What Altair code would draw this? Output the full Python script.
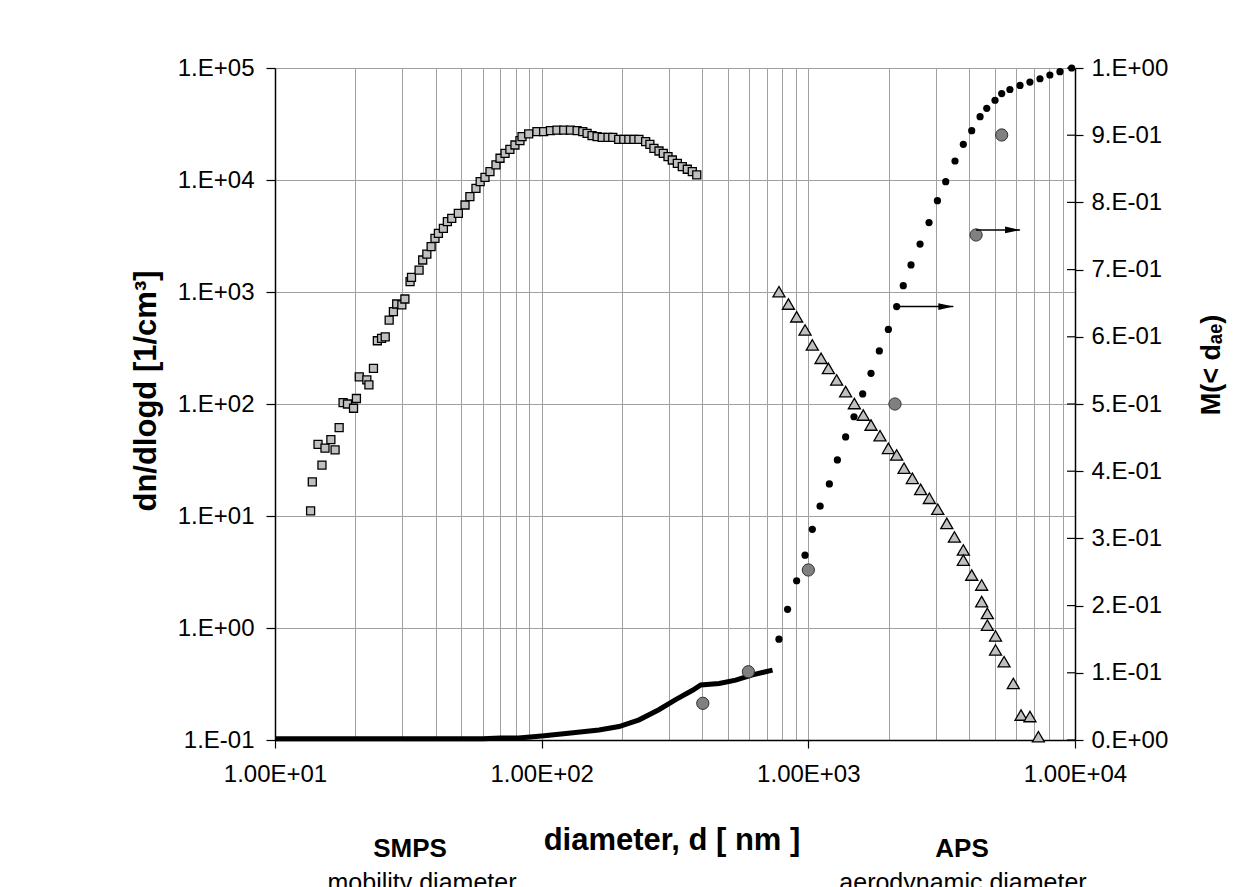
import altair as alt
import pandas as pd

FONT = "Liberation Sans"

# ---- SMPS number size distribution (squares), d [nm], dn/dlogd [1/cm3]
smps_d = [13.6, 13.8, 15.0, 14.5, 15.4, 16.2, 16.8, 17.4, 18.0, 18.7, 19.7, 20.2,
          20.7, 22.1, 22.5, 23.4, 24.2, 25.1, 25.9, 26.8, 27.8, 28.6, 29.9, 30.7,
          32.1, 32.5, 34.7, 35.8, 37.1, 38.5, 39.8, 41.0, 42.8, 44.3, 46.0, 48.7,
          51.6, 53.8, 56.7, 58.8, 61.3, 64.0, 67.4, 69.8, 72.9, 76.0, 79.4, 82.9,
          84.4, 89.4, 96.0, 101.7, 107.9, 114.1, 121.0, 128.2, 135.8, 142.6, 148.0,
          154.5, 161.4, 168.6, 177.4, 184.8, 194.5, 203.2, 212.3, 221.8, 231.6,
          245.4, 254.6, 263.6, 275.4, 285.8, 297.7, 309.0, 322.7, 336.8, 351.7,
          367.2, 381.6]
smps_n = [11.1, 20.2, 28.5, 43.6, 40.3, 48.0, 38.9, 61.5, 103, 100, 91.6, 112,
          175, 164, 148, 208, 367, 386, 398, 562, 667, 781, 766, 866,
          1236, 1352, 1571, 1931, 2183, 2541, 3016, 3341, 3705, 4249, 4551, 5035,
          5983, 7099, 8434, 9666, 10570, 11860, 13620, 15640, 17300, 18790, 20530, 22430,
          24400, 25760, 26980, 26980, 27540, 27925, 27925, 27925, 27540, 26980, 26120,
          24880, 24400, 24040, 24040, 24040, 23080, 23080, 23080, 23080, 23080,
          21980, 20830, 19190, 18150, 17300, 16140, 15090, 14090, 13150, 12470,
          11860, 11090]

# ---- APS number size distribution (triangles)
aps_d = [776, 842, 904, 972, 1035, 1116, 1189, 1277, 1380, 1488, 1607, 1718,
         1857, 1996, 2144, 2285, 2455, 2638, 2843, 3057, 3305, 3530, 3813, 3813,
         4099, 4467, 4467, 4692, 4692, 5035, 5035, 5420, 5870, 6275, 6776, 7289]
aps_n = [1006, 781, 601, 458, 337, 256, 208, 164, 129, 101, 79.7, 64.9,
         52.1, 40.2, 35.1, 26.7, 21.7, 17.3, 14.4, 11.5, 8.6, 6.5, 4.97, 4.04,
         2.97, 2.42, 1.72, 1.35, 1.06, 0.849, 0.637, 0.5, 0.32, 0.167, 0.162, 0.107]

# ---- cumulative mass fraction, SMPS range (dense black band)
smps_cum_d = [10, 12, 15, 20, 25, 30, 40, 50, 60, 70, 82, 100, 126, 164, 195,
              232, 275, 318, 368, 395, 463, 534, 617, 734]
smps_cum_m = [0.002, 0.002, 0.002, 0.002, 0.002, 0.002, 0.002, 0.002, 0.002, 0.003,
              0.003, 0.006, 0.010, 0.015, 0.020, 0.030, 0.045, 0.060, 0.074, 0.082,
              0.084, 0.089, 0.097, 0.104]

# ---- cumulative mass fraction, APS range (black dots)
aps_cum_d = [776, 836, 904, 972, 1035, 1107, 1199, 1285, 1380, 1483, 1599, 1718,
             1846, 1996, 2144, 2270, 2427, 2624, 2835, 3048, 3275, 3548, 3813, 4099,
             4406, 4667, 5012, 5310, 5700, 6220, 6776, 7390, 8050, 8780, 9716]
aps_cum_m = [0.150, 0.1945, 0.237, 0.275, 0.3135, 0.348, 0.381, 0.4167, 0.451, 0.481,
             0.515, 0.5456, 0.579, 0.611, 0.645, 0.676, 0.707, 0.738, 0.770, 0.8025,
             0.8308, 0.8616, 0.8864, 0.9067, 0.9275, 0.940, 0.952, 0.962, 0.968,
             0.974, 0.979, 0.984, 0.9896, 0.9945, 1.000]

# ---- gravimetric / impactor points (grey circles)
imp_d = [402, 596, 1000, 2113, 4256, 5310]
imp_m = [0.0546, 0.1016, 0.253, 0.500, 0.7515, 0.9003]

# ---- arrows pointing to the right axis
arrow_from = [2144, 4256]
arrow_to = [3497, 6223]
arrow_m = [0.645, 0.759]

# ---- axis tick values
x_grid = [m * 10 ** e for e in (1, 2, 3) for m in range(1, 10)] + [10000]
left_ticks = [0.1, 1, 10, 100, 1000, 10000, 100000]
right_ticks = [0, 0.1, 0.2, 0.3, 0.4, 0.5, 0.6, 0.7, 0.8, 0.9, 1.0]

df_smps = pd.DataFrame({"d": smps_d, "v": smps_n})
df_aps = pd.DataFrame({"d": aps_d, "v": aps_n})
df_scum = pd.DataFrame({"d": smps_cum_d, "m": smps_cum_m})
df_acum = pd.DataFrame({"d": aps_cum_d, "m": aps_cum_m})
df_imp = pd.DataFrame({"d": imp_d, "m": imp_m})
df_arr = pd.DataFrame({"d0": arrow_from, "d1": arrow_to, "m": arrow_m})
df_rt = pd.DataFrame({"m": right_ticks})

is_decade = "abs(log(datum.value)/LN10 - round(log(datum.value)/LN10)) < 0.000001"

x_axis = alt.Axis(
    values=x_grid, title=None, grid=True, gridColor="#a0a0a0", gridWidth=1,
    labelExpr=f"({is_decade}) ? '1.00E+0' + round(log(datum.value)/LN10) : ''",
    labelOverlap=False, labelFlush=False, labelFont=FONT, labelFontSize=24,
    labelColor="black", labelPadding=14, tickSize=8, tickColor="black", tickWidth=1.2,
    tickOpacity={"condition": {"test": is_decade, "value": 1}, "value": 0},
    domainColor="black", domainWidth=1.5,
)
x_scale = alt.Scale(type="log", domain=[10, 10000], nice=False)


def X(field="d"):
    return alt.X(f"{field}:Q", scale=x_scale, axis=x_axis)


yl_axis = alt.Axis(
    values=left_ticks, title=None, grid=True, gridColor="#a0a0a0", gridWidth=1,
    labelExpr="'1.E' + (datum.value >= 1 ? '+' : '-') + (abs(round(log(datum.value)/LN10)) < 10 ? '0' : '') + abs(round(log(datum.value)/LN10))",
    labelFont=FONT, labelFontSize=24, labelColor="black", labelPadding=12,
    tickSize=9, tickColor="black", tickWidth=1.2, domainColor="black", domainWidth=1.5,
    labelOverlap=False,
)
yl_scale = alt.Scale(type="log", domain=[0.1, 100000], nice=False)

yr_axis = alt.Axis(
    values=right_ticks, title=None, grid=False, orient="right",
    labelExpr="datum.value == 0 ? '0.E+00' : (datum.value > 0.95 ? '1.E+00' : round(datum.value*10) + '.E-01')",
    labelFont=FONT, labelFontSize=24, labelColor="black", labelPadding=8,
    tickSize=8, tickColor="black", tickWidth=1.2, domainColor="black", domainWidth=1.5,
    labelOverlap=False,
)
yr_scale = alt.Scale(type="linear", domain=[0, 1], nice=False, zero=False)

YL = alt.Y("v:Q", scale=yl_scale, axis=yl_axis)


def YR():
    return alt.Y("m:Q", scale=yr_scale, axis=yr_axis)


squares = alt.Chart(df_smps).mark_point(
    shape="square", filled=True, fill="#c0c0c0", stroke="black", strokeWidth=1.3,
    size=64, opacity=1, fillOpacity=1
).encode(x=X(), y=YL)

triangles = alt.Chart(df_aps).mark_point(
    shape="triangle-up", filled=True, fill="#c0c0c0", stroke="black", strokeWidth=1.3,
    size=145, opacity=1, fillOpacity=1
).encode(x=X(), y=YL)

left = alt.layer(squares, triangles)

# inner half of the right-axis cross ticks
inner_ticks = alt.Chart(df_rt).mark_rule(color="black", strokeWidth=1.2).encode(
    x=alt.value(792), x2=alt.value(800), y=YR()
)

band = alt.Chart(df_scum).mark_line(color="black", strokeWidth=5).encode(x=X(), y=YR())

dots = alt.Chart(df_acum).mark_circle(color="black", size=52, opacity=1).encode(x=X(), y=YR())

imp = alt.Chart(df_imp).mark_point(
    shape="circle", filled=True, fill="#808080", stroke="#303030", strokeWidth=1,
    size=150, opacity=1, fillOpacity=1
).encode(x=X(), y=YR())

arrow_lines = alt.Chart(df_arr).mark_rule(color="black", strokeWidth=1.6).encode(
    x=X("d0"), x2="d1:Q", y=YR()
)
arrow_heads = alt.Chart(df_arr).mark_point(
    shape="M-1,-0.45L1,0L-1,0.45Z", filled=True, color="black", size=225,
    opacity=1, xOffset=-7.5
).encode(x=X("d1"), y=YR())

right = alt.layer(inner_ticks, band, dots, imp, arrow_lines, arrow_heads)

dummy = pd.DataFrame({"k": [0]})


def txt(text, x, y, size, bold=False, angle=0, baseline="alphabetic"):
    return alt.Chart(dummy).mark_text(
        text=text, font=FONT, fontSize=size, fontWeight="bold" if bold else "normal",
        angle=angle, align="center", baseline=baseline, color="black"
    ).encode(x=alt.value(x), y=alt.value(y))


texts = [
    txt("dn/dlogd [1/cm³]", -128, 323, 31, True, 270, "middle"),
    txt("M(< dₐₑ)", 937, 297, 27, True, 270, "middle"),
    txt("diameter, d [ nm ]", 397, 782, 31, True),
    txt("SMPS", 135, 789, 26, True),
    txt("APS", 687, 789, 26, True),
    txt("mobility diameter", 147, 823, 25),
    txt("aerodynamic diameter", 688, 823, 25),
]

chart = alt.layer(left, right, *texts).resolve_scale(y="independent").properties(
    width=800, height=672,
    autosize=alt.AutoSizeParams(type="none"),
    padding={"left": 267, "top": 60, "right": 154, "bottom": 147},
).configure_view(stroke="black", strokeWidth=1.5).configure(background="white")

chart.save("out.html", embed_options={"renderer": "svg", "actions": False})
